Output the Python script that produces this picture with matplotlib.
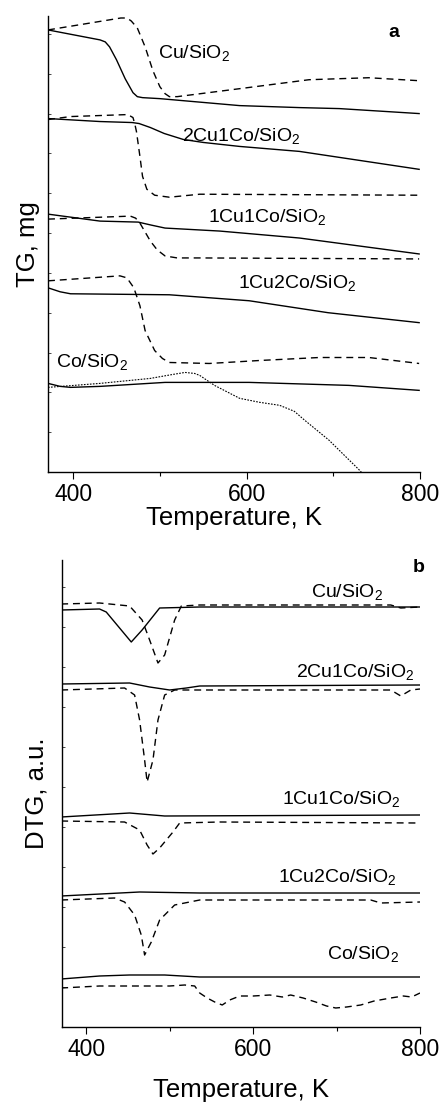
import matplotlib
matplotlib.use("Agg")
import matplotlib.pyplot as plt
from matplotlib.ticker import MultipleLocator

plt.rcParams["font.family"] = ["Liberation Sans", "DejaVu Sans"]
plt.rcParams["mathtext.fontset"] = "custom"
plt.rcParams["mathtext.rm"] = "Liberation Sans"

# ---- panel a: TG (arbitrary offsets, mg) ----
tg_cu_solid_t = [371, 431, 437, 442, 450, 460, 469, 474, 480, 500, 592, 661, 707, 799]
tg_cu_solid_y = [444, 434, 432, 427, 414, 395, 381, 377, 376, 375, 368, 366, 365, 360]
tg_cu_dash_t = [371, 455, 462, 467, 474, 483, 492, 500, 506, 511, 520, 592, 672, 741, 799]
tg_cu_dash_y = [444, 456, 456, 453, 446, 427, 403, 387, 380, 377, 377, 385, 394, 396, 393]

tg_21_solid_t = [371, 431, 468, 476, 489, 505, 527, 550, 592, 661, 799]
tg_21_solid_y = [355, 352, 351, 350, 346, 340, 334, 331, 327, 322, 304]
tg_21_dash_t = [371, 397, 463, 469, 471, 473, 477, 480, 485, 494, 511, 546, 799]
tg_21_dash_y = [354, 357, 359, 356, 350, 342, 317, 297, 284, 278, 276, 279, 278]

tg_11_solid_t = [371, 431, 475, 490, 506, 569, 661, 799]
tg_11_solid_y = [259, 252, 251, 248, 245, 242, 235, 219]
tg_11_dash_t = [371, 466, 472, 477, 483, 489, 497, 506, 520, 546, 799]
tg_11_dash_y = [254, 257, 255, 250, 241, 232, 223, 217, 215, 215, 214]

tg_12_solid_t = [371, 385, 397, 511, 603, 694, 799]
tg_12_solid_y = [185, 181, 179, 178, 172, 160, 150]
tg_12_dash_t = [371, 454, 462, 470, 477, 483, 494, 503, 511, 557, 615, 684, 741, 799]
tg_12_dash_y = [192, 197, 195, 185, 167, 142, 122, 114, 110, 109, 112, 115, 115, 109]

tg_co_solid_t = [371, 385, 397, 431, 506, 603, 718, 799]
tg_co_solid_y = [89, 86, 85, 86, 90, 90, 87, 82]
tg_co_dot_t = [371, 431, 489, 515, 529, 540, 546, 563, 592, 615, 638, 655, 667, 695, 730, 753]
tg_co_dot_y = [85, 89, 94, 98, 100, 99, 97, 87, 74, 70, 67, 61, 52, 32, 2, -20]

tg_labels = ["Cu/SiO$_2$", "2Cu1Co/SiO$_2$", "1Cu1Co/SiO$_2$", "1Cu2Co/SiO$_2$", "Co/SiO$_2$"]
tg_label_t = [498, 525, 555, 590, 380]
tg_label_y = [420, 337, 255, 189, 110]

# ---- panel b: DTG (arbitrary units) ----
dtg_cu_solid_t = [370, 416, 424, 440, 454, 467, 488, 536, 800]
dtg_cu_solid_y = [417, 418, 415, 399, 385, 397, 419, 420, 420]
dtg_cu_dash_t = [370, 416, 452, 467, 476, 486, 494, 506, 514, 536, 765, 777, 800]
dtg_cu_dash_y = [423, 424, 421, 407, 387, 364, 372, 407, 421, 422, 422, 419, 420]

dtg_21_solid_t = [370, 452, 476, 500, 520, 536, 800]
dtg_21_solid_y = [343, 344, 340, 337, 339, 341, 342]
dtg_21_dash_t = [370, 446, 458, 464, 470, 473, 480, 486, 494, 506, 536, 765, 777, 789, 800]
dtg_21_dash_y = [337, 339, 332, 307, 267, 245, 267, 307, 332, 337, 337, 337, 331, 337, 338]

dtg_11_solid_t = [370, 452, 494, 800]
dtg_11_solid_y = [210, 214, 211, 212]
dtg_11_dash_t = [370, 446, 464, 473, 480, 488, 504, 512, 560, 800]
dtg_11_dash_y = [206, 205, 197, 182, 173, 179, 195, 204, 205, 204]

dtg_12_solid_t = [370, 464, 536, 800]
dtg_12_solid_y = [131, 135, 134, 134]
dtg_12_dash_t = [370, 434, 446, 458, 466, 470, 478, 488, 506, 536, 657, 741, 753, 800]
dtg_12_dash_y = [127, 129, 125, 112, 92, 72, 85, 107, 122, 127, 127, 127, 124, 125]

dtg_co_solid_t = [370, 416, 452, 494, 536, 800]
dtg_co_solid_y = [48, 51, 52, 52, 50, 50]
dtg_co_dash_t = [370, 416, 500, 518, 530, 536, 545, 554, 563, 572, 584, 600, 620, 635,
                 645, 660, 675, 688, 699, 712, 729, 745, 765, 780, 790, 800]
dtg_co_dash_y = [39, 41, 41, 42, 41, 34, 29, 25, 22, 27, 31, 31, 32, 30,
                 32, 29, 25, 21, 19, 20, 22, 26, 29, 31, 30, 34]

dtg_labels = ["Cu/SiO$_2$", "2Cu1Co/SiO$_2$", "1Cu1Co/SiO$_2$", "1Cu2Co/SiO$_2$", "Co/SiO$_2$"]
dtg_label_t = [669, 651, 635, 630, 689]
dtg_label_y = [434, 354, 227, 149, 72]

DASH = (0, (5, 3.5))
DOT = (0, (1.5, 1.2))
LW = 1.0

fig = plt.figure(figsize=(4.4, 11.04), dpi=100)
ax_a = fig.add_axes([48 / 440, 632 / 1104, 372 / 440, 456 / 1104])
ax_b = fig.add_axes([62 / 440, 77 / 1104, 358 / 440, 467 / 1104])

ax_a.plot(tg_cu_solid_t, tg_cu_solid_y, "k-", lw=LW)
ax_a.plot(tg_cu_dash_t, tg_cu_dash_y, color="k", ls=DASH, lw=LW)
ax_a.plot(tg_21_solid_t, tg_21_solid_y, "k-", lw=LW)
ax_a.plot(tg_21_dash_t, tg_21_dash_y, color="k", ls=DASH, lw=LW)
ax_a.plot(tg_11_solid_t, tg_11_solid_y, "k-", lw=LW)
ax_a.plot(tg_11_dash_t, tg_11_dash_y, color="k", ls=DASH, lw=LW)
ax_a.plot(tg_12_solid_t, tg_12_solid_y, "k-", lw=LW)
ax_a.plot(tg_12_dash_t, tg_12_dash_y, color="k", ls=DASH, lw=LW)
ax_a.plot(tg_co_solid_t, tg_co_solid_y, "k-", lw=LW)
ax_a.plot(tg_co_dot_t, tg_co_dot_y, color="k", ls=DOT, lw=0.8)
for lab, t, y in zip(tg_labels, tg_label_t, tg_label_y):
    ax_a.text(t, y, lab, fontsize=14, va="center", ha="left")
ax_a.text(764, 441, "a", fontsize=14, fontweight="bold", va="center")
ax_a.set_ylim(0, 458)
ax_a.set_ylabel("TG, mg", fontsize=18.5, labelpad=6)

ax_b.plot(dtg_cu_solid_t, dtg_cu_solid_y, "k-", lw=LW)
ax_b.plot(dtg_cu_dash_t, dtg_cu_dash_y, color="k", ls=DASH, lw=LW)
ax_b.plot(dtg_21_solid_t, dtg_21_solid_y, "k-", lw=LW)
ax_b.plot(dtg_21_dash_t, dtg_21_dash_y, color="k", ls=DASH, lw=LW)
ax_b.plot(dtg_11_solid_t, dtg_11_solid_y, "k-", lw=LW)
ax_b.plot(dtg_11_dash_t, dtg_11_dash_y, color="k", ls=DASH, lw=LW)
ax_b.plot(dtg_12_solid_t, dtg_12_solid_y, "k-", lw=LW)
ax_b.plot(dtg_12_dash_t, dtg_12_dash_y, color="k", ls=DASH, lw=LW)
ax_b.plot(dtg_co_solid_t, dtg_co_solid_y, "k-", lw=LW)
ax_b.plot(dtg_co_dash_t, dtg_co_dash_y, color="k", ls=DASH, lw=LW)
for lab, t, y in zip(dtg_labels, dtg_label_t, dtg_label_y):
    ax_b.text(t, y, lab, fontsize=14, va="center", ha="left")
ax_b.text(791, 460, "b", fontsize=14, fontweight="bold", va="center")
ax_b.set_ylim(0, 467)
ax_b.set_ylabel("DTG, a.u.", fontsize=18.5, labelpad=10)

for ax, pad in ((ax_a, 0), (ax_b, 12)):
    ax.set_xlim(371, 800)
    ax.spines["top"].set_visible(False)
    ax.spines["right"].set_visible(False)
    ax.spines["left"].set_linewidth(1.0)
    ax.spines["bottom"].set_linewidth(1.0)
    ax.xaxis.set_major_locator(MultipleLocator(200))
    ax.xaxis.set_minor_locator(MultipleLocator(100))
    ax.tick_params(axis="x", which="major", length=5, width=0.8, labelsize=16.5, pad=3)
    ax.tick_params(axis="x", which="minor", length=3, width=0.8)
    ax.yaxis.set_minor_locator(MultipleLocator(40))
    ax.yaxis.set_major_locator(MultipleLocator(40))
    ax.tick_params(axis="y", which="both", direction="in", length=2, width=0.5, labelleft=False)
    ax.set_xlabel("Temperature, K", fontsize=18.5, labelpad=pad)

fig.savefig("out.png", dpi=100)
